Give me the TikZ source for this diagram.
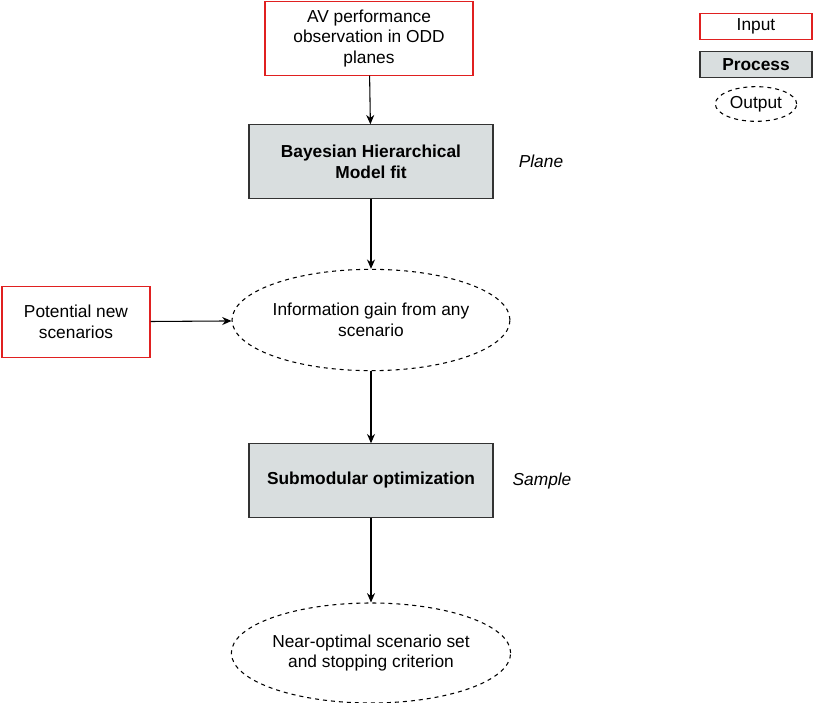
\documentclass[tikz,border=0pt]{standalone}
\usepackage{fontspec}
\setmainfont{Liberation Sans}
\usetikzlibrary{shapes.geometric,arrows.meta}
\definecolor{procfill}{HTML}{D9DEDF}
\definecolor{inred}{HTML}{E02020}
\tikzset{
  inbox/.style={draw=inred,fill=white,line width=0.8pt,align=center,inner sep=0pt,font=\fontsize{13pt}{15.5pt}\selectfont},
  procbox/.style={draw=black!80,fill=procfill,line width=0.8pt,align=center,inner sep=0pt,font=\fontsize{13pt}{15.5pt}\selectfont\bfseries},
  outell/.style={ellipse,draw,dashed,line width=0.8pt,align=center,inner sep=0pt,font=\fontsize{13pt}{15.5pt}\selectfont},
  lab/.style={font=\fontsize{13pt}{15.5pt}\selectfont\itshape},
  conn/.style={-{Stealth[length=7pt,width=6pt]},line width=0.8pt}
}
\begin{document}
\begin{tikzpicture}[x=0.75pt,y=-0.75pt]
\useasboundingbox (0,0) rectangle (814,703);
\node[inbox,minimum width=156pt,minimum height=55pt] (in) at (369,38.5) {AV performance\\observation in ODD\\planes};
\node[procbox,minimum width=183pt,minimum height=55pt] (bhm) at (371,161.5) {Bayesian Hierarchical\\Model fit};
\node[lab] (plane) at (541,161) {Plane};
\node[outell,minimum width=185pt,minimum height=76pt] (ig) at (371,320) {Information gain from any\\scenario};
\node[inbox,minimum width=111pt,minimum height=53pt] (pns) at (76,322) {Potential new\\scenarios};
\node[procbox,minimum width=183pt,minimum height=55pt] (sub) at (371,480.5) {Submodular optimization};
\node[lab] (sample) at (542,481) {Sample};
\node[outell,minimum width=185pt,minimum height=75pt] (no) at (371,653) {Near-optimal scenario set\\and stopping criterion};
\node[inbox,minimum width=84pt,minimum height=19pt] (lin) at (756,26.5) {Input};
\node[procbox,minimum width=84pt,minimum height=19pt] (lpr) at (756,64.5) {Process};
\node[outell,minimum width=61pt,minimum height=26pt] (lout) at (756,104) {Output};
\draw[conn] (in) -- (bhm);
\draw[conn] (bhm) -- (ig);
\draw[conn] (pns) -- (ig);
\draw[conn] (ig) -- (sub);
\draw[conn] (sub) -- (no);
\end{tikzpicture}
\end{document}
